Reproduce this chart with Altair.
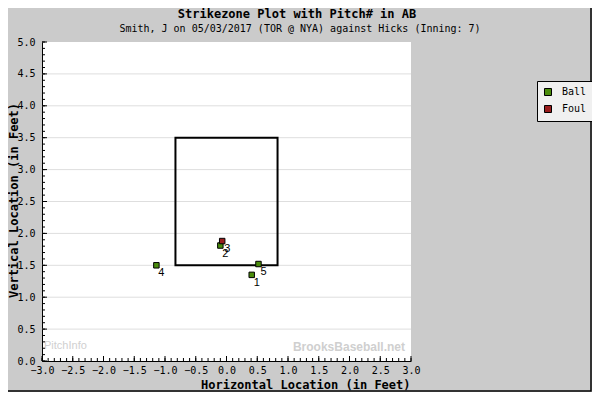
import altair as alt
import pandas as pd

# ---- data ----
pitch_num = [1, 2, 3, 4, 5]
pitch_x = [0.41, -0.10, -0.07, -1.14, 0.52]
pitch_z = [1.35, 1.81, 1.88, 1.50, 1.52]
pitch_result = ["Ball", "Ball", "Foul", "Ball", "Ball"]

zone_left, zone_right = -0.83, 0.83
zone_bottom, zone_top = 1.5, 3.5

x_ticks = [-3.0, -2.5, -2.0, -1.5, -1.0, -0.5, 0.0, 0.5, 1.0, 1.5, 2.0, 2.5, 3.0]
y_ticks = [0.0, 0.5, 1.0, 1.5, 2.0, 2.5, 3.0, 3.5, 4.0, 4.5, 5.0]
grid_values = [0.5, 1.0, 1.5, 2.0, 2.5, 3.0, 3.5, 4.0, 4.5]
x_minor = [round(-3.0 + 0.1 * i, 1) for i in range(61)]
y_minor = [round(0.1 * i, 1) for i in range(51)]

legend_labels = ["Ball", "Foul"]
legend_colors = ["#4a8c0c", "#991c1c"]

title_text = "Strikezone Plot with Pitch# in AB"
subtitle_text = "Smith, J on 05/03/2017 (TOR @ NYA) against Hicks (Inning: 7)"

W, H = 369, 319
MONO = "DejaVu Sans Mono"

pitches = pd.DataFrame({"num": pitch_num, "px": pitch_x, "pz": pitch_z, "result": pitch_result})
zone = pd.DataFrame({"x1": [zone_left], "x2": [zone_right], "y1": [zone_bottom], "y2": [zone_top]})
grid = pd.DataFrame({"v": grid_values})
xmin_df = pd.DataFrame({"v": x_minor})
ymin_df = pd.DataFrame({"v": y_minor})
xmaj_df = pd.DataFrame({"v": x_ticks})
ymaj_df = pd.DataFrame({"v": y_ticks})
dummy = pd.DataFrame({"a": [0]})

xscale = alt.Scale(domain=[-3, 3], nice=False, zero=False)
yscale = alt.Scale(domain=[0, 5], nice=False, zero=False)

xaxis = alt.Axis(values=x_ticks, format=".1f", grid=False, ticks=False,
                 domainColor="black", domainWidth=1,
                 labelFont=MONO, labelFontSize=10, labelColor="black", labelPadding=4,
                 labelFlush=False, labelOverlap=False,
                 title="Horizontal Location (in Feet)", titleFont=MONO, titleFontSize=12,
                 titleFontWeight="bold", titleColor="black",
                 titleAnchor="end", titleAlign="right", titleX=368, titleY=23,
                 titleBaseline="middle")
yaxis = alt.Axis(values=y_ticks, format=".1f", grid=False, ticks=False,
                 domainColor="black", domainWidth=1,
                 labelFont=MONO, labelFontSize=10, labelColor="black", labelPadding=7,
                 labelFlush=False, labelOverlap=False,
                 title="Vertical Location (in Feet)", titleFont=MONO, titleFontSize=12,
                 titleFontWeight="bold", titleColor="black",
                 titleAngle=270, titleX=-24.5, titleY=158, titleAlign="center",
                 titleBaseline="alphabetic")

# ---- decoration (frame of the panel) ----
border = alt.Chart(dummy).mark_rect(fillOpacity=0, stroke="black", strokeWidth=1.5).encode(
    x=alt.value(-60), x2=alt.value(549), y=alt.value(-60), y2=alt.value(349))

grid_layer = alt.Chart(grid).mark_rule(color="#dedede", strokeWidth=1).encode(
    y=alt.Y("v:Q", scale=yscale, axis=yaxis), x=alt.value(0), x2=alt.value(W))

ytick_min = alt.Chart(ymin_df).mark_rule(color="black", strokeWidth=1).encode(
    y=alt.Y("v:Q", scale=yscale, axis=yaxis), x=alt.value(0), x2=alt.value(3))
ytick_maj = alt.Chart(ymaj_df).mark_rule(color="black", strokeWidth=1).encode(
    y=alt.Y("v:Q", scale=yscale, axis=yaxis), x=alt.value(0), x2=alt.value(5))
xtick_min = alt.Chart(xmin_df).mark_rule(color="black", strokeWidth=1).encode(
    x=alt.X("v:Q", scale=xscale, axis=xaxis), y=alt.value(H), y2=alt.value(H - 3))
xtick_maj = alt.Chart(xmaj_df).mark_rule(color="black", strokeWidth=1).encode(
    x=alt.X("v:Q", scale=xscale, axis=xaxis), y=alt.value(H), y2=alt.value(H - 5))

zone_layer = alt.Chart(zone).mark_rect(fillOpacity=0, stroke="black", strokeWidth=2).encode(
    x=alt.X("x1:Q", scale=xscale, axis=xaxis), x2="x2:Q",
    y=alt.Y("y1:Q", scale=yscale, axis=yaxis), y2="y2:Q")

wm1 = alt.Chart(dummy).mark_text(text="PitchInfo", font="Liberation Sans", fontSize=11,
                                 color="#d0d0d0", align="left", baseline="middle").encode(
    x=alt.value(2), y=alt.value(304))
wm2 = alt.Chart(dummy).mark_text(text="BrooksBaseball.net", font="Liberation Sans", fontSize=12,
                                 fontWeight="bold", color="#cfcfcf", align="right",
                                 baseline="middle").encode(
    x=alt.value(363), y=alt.value(305))

title_mark = alt.Chart(dummy).mark_text(text=title_text, font=MONO, fontSize=12,
                                        fontWeight="bold", color="black", align="center",
                                        baseline="middle").encode(
    x=alt.value(255), y=alt.value(-28))
subtitle_mark = alt.Chart(dummy).mark_text(text=subtitle_text, font=MONO, fontSize=10,
                                           color="black", align="center",
                                           baseline="middle").encode(
    x=alt.value(258), y=alt.value(-13))

points = alt.Chart(pitches).mark_square(size=30, filled=True, stroke="black", strokeWidth=1,
                                        opacity=1).encode(
    x=alt.X("px:Q", scale=xscale, axis=xaxis),
    y=alt.Y("pz:Q", scale=yscale, axis=yaxis),
    color=alt.Color("result:N",
                    scale=alt.Scale(domain=legend_labels, range=legend_colors),
                    legend=alt.Legend(orient="none", legendX=495, legendY=39, title=None,
                                      fillColor="#f0f0f0", strokeColor="black", padding=6,
                                      symbolType="square", symbolSize=49,
                                      symbolStrokeColor="black", symbolStrokeWidth=1,
                                      symbolOpacity=1,
                                      labelFont=MONO, labelFontSize=10, labelColor="black",
                                      labelOffset=9, rowPadding=5)))

labels = alt.Chart(pitches).mark_text(font="Liberation Sans", fontSize=11, color="black",
                                      dx=5, dy=8, align="center", baseline="middle").encode(
    x=alt.X("px:Q", scale=xscale, axis=xaxis),
    y=alt.Y("pz:Q", scale=yscale, axis=yaxis),
    text="num:N")

chart = alt.layer(
    border, grid_layer, wm1, wm2, title_mark, subtitle_mark, zone_layer,
    ytick_min, ytick_maj, xtick_min, xtick_maj, points, labels
).properties(
    width=W, height=H,
    autosize=alt.AutoSizeParams(type="none"),
    padding={"left": 34, "top": 34, "right": 181, "bottom": 31},
    background="#cbcbcb",
).configure_view(fill="white", stroke=None)

chart.save("out.html", embed_options={"renderer": "svg", "actions": False})
